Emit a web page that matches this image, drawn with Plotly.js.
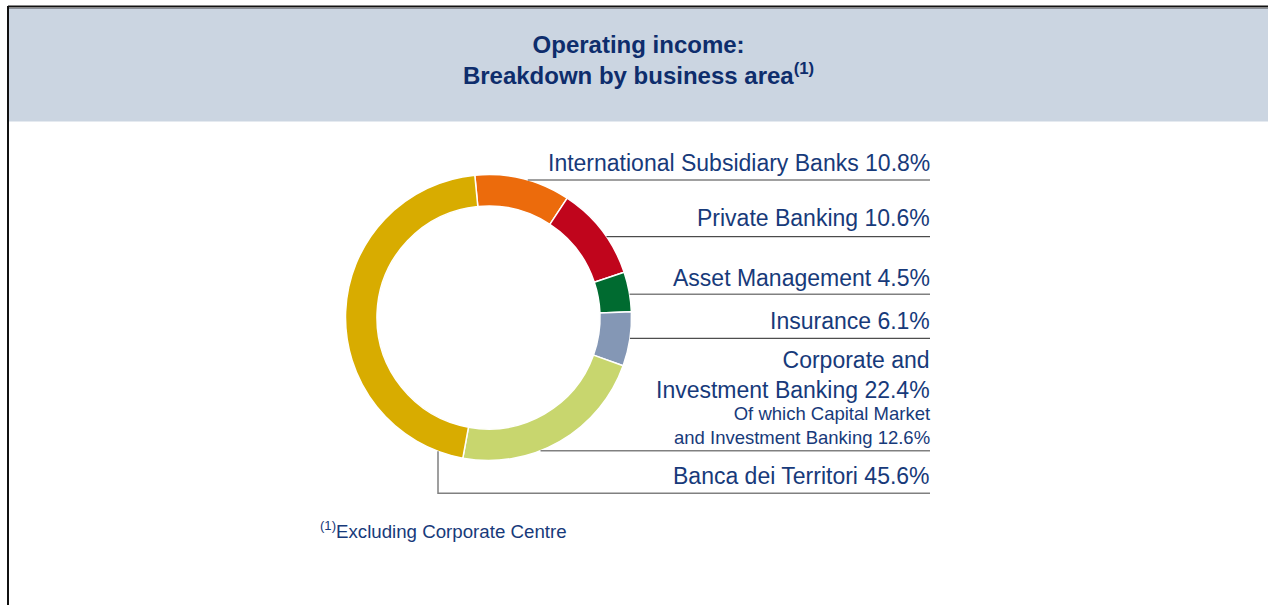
<!DOCTYPE html>
<html>
<head>
<meta charset="utf-8">
<script src="https://cdn.plot.ly/plotly-3.0.1.min.js"></script>
<style>
html,body{margin:0;padding:0;background:#fff;}
#chart{width:1268px;height:605px;}
</style>
</head>
<body>
<div id="chart"></div>
<script>
// ---- data ----
var categories = ['International Subsidiary Banks', 'Private Banking', 'Asset Management', 'Insurance', 'Corporate and Investment Banking', 'Banca dei Territori'];
var shares = [10.8, 10.6, 4.5, 6.1, 22.4, 45.6];
var sliceColors = ['#EC6B0C', '#C0051C', '#006B30', '#8497B5', '#C8D66E', '#D8AC00'];
var subLabel = 'Of which Capital Market<br>and Investment Banking';
var subShare = 12.6;
var titleText = 'Operating income:<br>Breakdown by business area<sup>(1)</sup>';
var footnoteText = '<sup>(1)</sup>Excluding Corporate Centre';

// ---- layout geometry ----
var W = 1268, H = 605;
var cx = 488.5, cy = 317.5, R = 143;
var labelRight = 930;
var labelY = [163, 218, 278, 321, 375, 476];   // centre of each label block (px from top)
var leaderY = [180, 236.7, 294.3, 338.3, 450.7, 493.3];
var leaderColor = ['#808080', '#222222', '#808080', '#222222', '#808080', '#808080'];
var bdtVertX = 438;

function px(x){ return x / W; }
function py(y){ return 1 - y / H; }

var fontFam = 'Liberation Sans, Arial, Helvetica, sans-serif';
var labelColor = '#173A7A';

var trace = {
  type: 'pie',
  labels: categories,
  values: shares,
  sort: false,
  direction: 'clockwise',
  rotation: -5.5,
  hole: 0.78,
  textinfo: 'none',
  hoverinfo: 'label+value',
  showlegend: false,
  marker: {colors: sliceColors, line: {color: '#ffffff', width: 1.5}},
  domain: {x: [px(cx - R), px(cx + R)], y: [py(cy + R), py(cy - R)]}
};

var annotations = [];
categories.forEach(function(c, i){
  var t = (i === 4 ? 'Corporate and<br>Investment Banking' : c) + ' ' + shares[i].toFixed(1) + '%';
  annotations.push({
    xref: 'paper', yref: 'paper', x: px(labelRight + 2), y: py(labelY[i]),
    xanchor: 'right', yanchor: 'middle', align: 'right', showarrow: false,
    text: t, font: {family: fontFam, size: 23, color: labelColor}
  });
});
annotations.push({
  xref: 'paper', yref: 'paper', x: px(labelRight + 2), y: py(425),
  xanchor: 'right', yanchor: 'middle', align: 'right', showarrow: false,
  text: subLabel + ' ' + subShare.toFixed(1) + '%', font: {family: fontFam, size: 18.5, color: labelColor}
});
annotations.push({
  xref: 'paper', yref: 'paper', x: px(318), y: py(530),
  xanchor: 'left', yanchor: 'middle', align: 'left', showarrow: false,
  text: footnoteText, font: {family: fontFam, size: 18.7, color: labelColor}
});

var shapes = [];
// header band
shapes.push({type: 'rect', xref: 'paper', yref: 'paper', x0: px(9), x1: 1, y0: py(121.5), y1: py(8),
  fillcolor: '#CBD5E1', line: {width: 0}, layer: 'below'});
// frame
shapes.push({type: 'line', xref: 'paper', yref: 'paper', x0: px(8), x1: 1, y0: py(6.5), y1: py(6.5), line: {color: '#111', width: 2}});
shapes.push({type: 'line', xref: 'paper', yref: 'paper', x0: px(8), x1: px(8), y0: py(6), y1: 0, line: {color: '#111', width: 2}});
shapes.push({type: 'line', xref: 'paper', yref: 'paper', x0: px(9), x1: 1, y0: py(8.5), y1: py(8.5), line: {color: '#8a8f98', width: 1}});

// leader lines
leaderY.forEach(function(y, i){
  var col = leaderColor[i];
  var w = col === '#808080' ? 1.5 : 1;
  if (i === 5) {
    var dx = bdtVertX - cx;
    var yTop = cy + Math.sqrt(R * R - dx * dx);
    shapes.push({type: 'path', xref: 'paper', yref: 'paper',
      path: 'M' + px(bdtVertX) + ',' + py(yTop) + ' L' + px(bdtVertX) + ',' + py(y) + ' L' + px(labelRight) + ',' + py(y),
      line: {color: col, width: w}});
  } else {
    var dy = y - cy;
    var xs = cx + Math.sqrt(Math.max(0, R * R - dy * dy));
    shapes.push({type: 'line', xref: 'paper', yref: 'paper', x0: px(xs), x1: px(labelRight), y0: py(y), y1: py(y),
      line: {color: col, width: w}});
  }
});

var layout = {
  width: W, height: H,
  margin: {l: 0, r: 0, t: 0, b: 0},
  paper_bgcolor: '#ffffff',
  title: {text: titleText, x: 0.5036, xanchor: 'center', xref: 'paper', y: py(52.5), yanchor: 'middle', yref: 'paper',
    font: {family: fontFam, size: 24, color: '#0E2D6C', weight: 'bold'}},
  annotations: annotations,
  shapes: shapes
};

Plotly.newPlot('chart', [trace], layout, {displayModeBar: false, staticPlot: true});
</script>
</body>
</html>
